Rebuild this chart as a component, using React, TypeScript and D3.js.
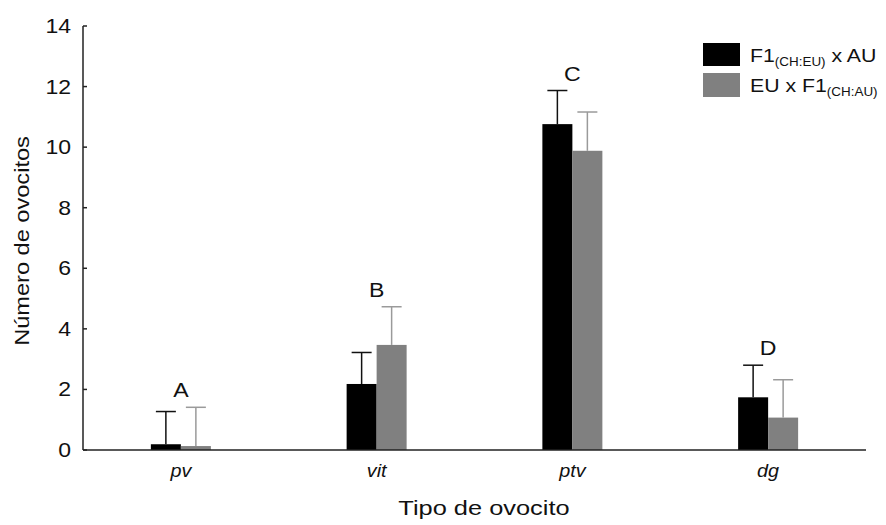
import React from "react";
import * as d3 from "d3";

const categories = ["pv", "vit", "ptv", "dg"];
const seriesNames = ["F1xAU", "EUxF1"];
const meansF1AU = [0.19, 2.18, 10.76, 1.74];
const errTopF1AU = [1.27, 3.22, 11.87, 2.8];
const meansEUF1 = [0.13, 3.47, 9.88, 1.07];
const errTopEUF1 = [1.41, 4.73, 11.16, 2.32];
const letters = ["A", "B", "C", "D"];
const yTicks = [0, 2, 4, 6, 8, 10, 12, 14];

const W = 886;
const H = 525;
const left = 83;
const right = 866;
const top = 26;
const bottom = 450;
const FONT = "'Liberation Sans', Arial, sans-serif";

function SText(props: {
  x: number;
  y: number;
  size: number;
  sx?: number;
  anchor?: string;
  italic?: boolean;
  rotate?: number;
  children: React.ReactNode;
}) {
  const { x, y, size, sx = 1.15, anchor = "middle", italic, rotate = 0, children } = props;
  return (
    <text
      transform={`translate(${x},${y}) rotate(${rotate}) scale(${sx},1)`}
      textAnchor={anchor}
      fontSize={size}
      fontStyle={italic ? "italic" : "normal"}
      fill="#111"
    >
      {children}
    </text>
  );
}

export default function App() {
  const x = d3.scaleBand<string>().domain(categories).range([left, right]);
  const y = d3.scaleLinear().domain([0, 14]).range([bottom, top]);
  const barW = 30;
  const capW = 20;

  const series = [
    { name: seriesNames[0], means: meansF1AU, errs: errTopF1AU, fill: "#000000", err: "#111111", offset: -barW },
    { name: seriesNames[1], means: meansEUF1, errs: errTopEUF1, fill: "#808080", err: "#9a9a9a", offset: 0 },
  ];

  const center = (c: string) => (x(c) as number) + x.bandwidth() / 2;

  return (
    <svg width={W} height={H} style={{ position: "absolute", left: 0, top: 0, background: "#fff" }} fontFamily={FONT}>
      <rect width={W} height={H} fill="#fff" />
      {series.map((s) =>
        categories.map((c, i) => {
          const bx = center(c) + s.offset;
          const mid = bx + barW / 2;
          return (
            <g key={s.name + c}>
              <line x1={mid} x2={mid} y1={y(s.means[i])} y2={y(s.errs[i])} stroke={s.err} strokeWidth={1.5} />
              <line x1={mid - capW / 2} x2={mid + capW / 2} y1={y(s.errs[i])} y2={y(s.errs[i])} stroke={s.err} strokeWidth={1.5} />
              <rect x={bx} y={y(s.means[i])} width={barW} height={bottom - y(s.means[i])} fill={s.fill} />
            </g>
          );
        })
      )}
      {/* axes */}
      <line x1={left} x2={left} y1={top} y2={bottom} stroke="#222" strokeWidth={1.5} />
      <line x1={left} x2={right} y1={bottom} y2={bottom} stroke="#222" strokeWidth={1.5} />
      {yTicks.map((t) => (
        <g key={t}>
          <line x1={left} x2={left + 4} y1={y(t)} y2={y(t)} stroke="#222" strokeWidth={1.5} />
          <SText x={71} y={y(t) + 7} size={20} anchor="end">
            {t}
          </SText>
        </g>
      ))}
      {categories.map((c) => (
        <SText key={c} x={center(c)} y={477} size={18} sx={1.1} italic>
          {c}
        </SText>
      ))}
      {categories.map((c, i) => (
        <SText key={"l" + c} x={center(c)} y={y(Math.max(errTopF1AU[i], errTopEUF1[i])) - 10} size={21} sx={1.1}>
          {letters[i]}
        </SText>
      ))}
      <SText x={484} y={515} size={20} sx={1.27}>
        Tipo de ovocito
      </SText>
      <SText x={29} y={241} size={20} sx={1.18} rotate={-90}>
        Número de ovocitos
      </SText>
      {/* legend */}
      <rect x={703} y={43} width={37} height={23} fill="#000" />
      <rect x={703} y={73} width={37} height={24} fill="#808080" />
      <SText x={750} y={62} size={19} sx={1.12} anchor="start">
        F1<tspan fontSize={12} dy={4}>(CH:EU)</tspan>
        <tspan dy={-4}> x AU</tspan>
      </SText>
      <SText x={750} y={92} size={19} sx={1.12} anchor="start">
        EU x F1<tspan fontSize={12} dy={4}>(CH:AU)</tspan>
      </SText>
    </svg>
  );
}
